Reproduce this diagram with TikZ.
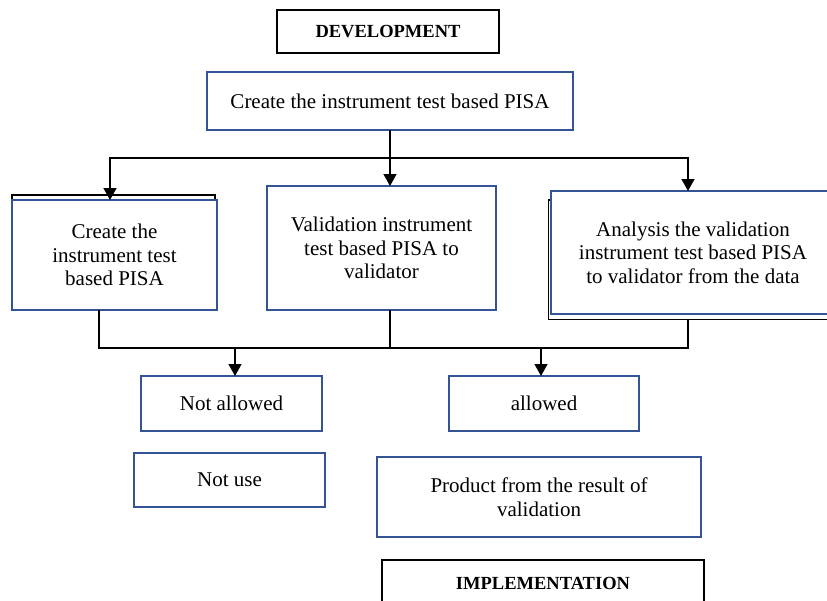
\documentclass[tikz,border=0pt]{standalone}
\usepackage{fontspec}
\setmainfont{Liberation Serif}
\usetikzlibrary{positioning,arrows.meta}
\definecolor{boxBlue}{RGB}{52,84,150}

\begin{document}
\begin{tikzpicture}[
	x=1pt, y=-1pt,
	font=\fontsize{21}{23.5}\selectfont,
	step box/.style={draw=boxBlue, line width=2.9pt, fill=white, align=center,
		inner sep=0pt, outer sep=0pt},
	stage/.style={draw, line width=1.3pt, align=center, inner sep=0pt,
		font=\fontsize{18.5}{22}\selectfont\bfseries},
	back/.style={draw, line width=1.4pt},
	line/.style={line width=1.4pt},
	arr/.style={line width=1.4pt, -{Triangle[length=12pt,width=13pt]}},
	]
	\useasboundingbox (0,0) rectangle (827,600);
	\clip (0,0) rectangle (827,600);
	
	\node [stage, minimum width=222, minimum height=43] (dev) at (388,31.5) {DEVELOPMENT};
	\node [step box, minimum width=366, minimum height=58] (top) at (390,101) {Create the instrument test based PISA};
	
	% three steps
	\draw [back] (12,195) rectangle (215,240);
	\node [step box, minimum width=205, minimum height=110] (crt) at (114.5,255) {Create the\\ instrument test\\ based PISA};
	\node [step box, minimum width=229, minimum height=124] (val) at (381.5,248) {Validation instrument\\ test based PISA to\\ validator};
	\draw [back] (548.5,200) rectangle (840,319.5);
	\node [step box, minimum width=284, minimum height=123] (anl) at (693,252.5) {Analysis the validation\\ instrument test based PISA\\ to validator from the data};
	
	% results
	\node [step box, minimum width=181, minimum height=55] (noal) at (231.5,403.5) {Not allowed};
	\node [step box, minimum width=190, minimum height=55] (alw) at (544,403.5) {allowed};
	\node [step box, minimum width=191, minimum height=54] (nuse) at (229.5,480) {Not use};
	\node [step box, minimum width=324, minimum height=80] (prod) at (539,497) {Product from the result of\\ validation};
	\node [stage, minimum width=322, minimum height=47] (impl) at (543,583.5) {IMPLEMENTATION};
	
	% split
	\coordinate (sp) at (0,158);
	\draw [line] (top.south) -- (top.south |- sp);
	\draw [arr] (top.south |- sp) -| ([xshift=-4.5pt]crt.north);
	\draw [arr] (top.south |- sp) -| ([xshift=-5pt]anl.north);
	\draw [arr] (top.south |- sp) -- (top.south |- val.north);
	
	% join
	\coordinate (jn) at (0,348);
	\draw [line] ([xshift=-15.5pt]crt.south) |- ([xshift=-5pt]anl.south |- jn) -- ([xshift=-5pt]anl.south |- 0,319);
	\draw [line] (top.south |- val.south) -- (top.south |- jn);
	\draw [arr] ([xshift=3.5pt]noal.north |- jn) -- ([xshift=3.5pt]noal.north);
	\draw [arr] ([xshift=-3pt]alw.north |- jn) -- ([xshift=-3pt]alw.north);
\end{tikzpicture}
\end{document}
